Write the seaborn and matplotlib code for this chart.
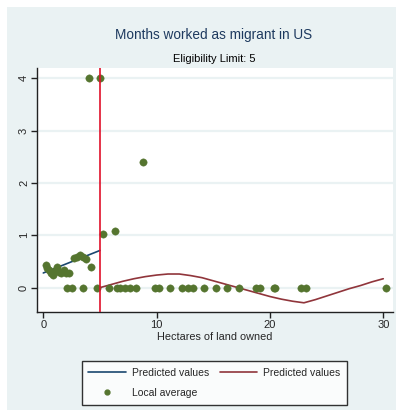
import matplotlib
matplotlib.use("Agg")
import matplotlib.pyplot as plt
from matplotlib.patches import Rectangle
from matplotlib.lines import Line2D
import seaborn as sns
import pandas as pd

# ---- data ----
avg_x = [0.2, 0.35, 0.5, 0.7, 0.85, 1.1, 1.25, 1.4, 1.6, 1.8, 2.0, 2.25,
         2.75, 3.0, 3.25, 3.5, 3.8, 4.25,
         4.0, 5.0, 5.3, 6.3, 8.8,
         2.05, 2.5, 3.5, 4.72, 5.78, 6.5, 6.75, 7.2, 7.65, 8.2, 9.85, 10.25,
         11.2, 12.25, 12.75, 13.2, 14.2, 15.25, 16.25, 17.25, 18.8, 19.15,
         20.35, 20.45, 22.75, 23.2, 30.2]
avg_y = [0.44, 0.38, 0.33, 0.27, 0.24, 0.33, 0.40, 0.30, 0.27, 0.33, 0.28, 0.27,
         0.57, 0.59, 0.62, 0.58, 0.54, 0.40,
         4.0, 4.0, 1.03, 1.09, 2.40,
         0, 0, 0, 0, 0, 0, 0, 0, 0, 0, 0, 0,
         0, 0, 0, 0, 0, 0, 0, 0, 0, 0,
         0, 0, 0, 0, 0]

left_x = [0.0, 5.0]
left_y = [0.28, 0.71]

right_x = [5, 6, 7, 8, 9, 10, 11, 12, 13, 14, 15, 16, 17, 18, 19, 20, 21, 22,
           23, 24, 25, 26, 27, 28, 29, 30]
right_y = [0.0, 0.06, 0.12, 0.17, 0.21, 0.24, 0.26, 0.26, 0.23, 0.19, 0.13,
           0.07, 0.01, -0.05, -0.11, -0.17, -0.22, -0.26, -0.29, -0.23, -0.16,
           -0.09, -0.02, 0.04, 0.11, 0.17]

cutoff = 5
x_ticks = [0, 10, 20, 30]
y_ticks = [0, 1, 2, 3, 4]

title = "Months worked as migrant in US"
subtitle = "Eligibility Limit: 5"
xlabel = "Hectares of land owned"
legend_labels = ["Predicted values", "Predicted values", "Local average"]

# ---- styling ----
sns.set_style("white")
plt.rcParams["font.family"] = ["Liberation Sans", "DejaVu Sans"]

BG = "#eaf2f3"
NAVY = "#1a476f"
MAROON = "#90353b"
GREEN = "#55752f"

fig = plt.figure(figsize=(3.96, 4.11), dpi=100)
fig.patch.set_facecolor("white")
fig.patches.append(Rectangle((7 / 396, 1 / 411), 389 / 396, 403 / 411,
                             transform=fig.transFigure, facecolor=BG,
                             edgecolor="none", zorder=-10))

ax = fig.add_axes([37.3 / 396, 1 - 311.7 / 411, 355.7 / 396, 243.4 / 411])
ax.set_facecolor("white")

df_pts = pd.DataFrame({"x": avg_x, "y": avg_y})
df_l = pd.DataFrame({"x": left_x, "y": left_y})
df_r = pd.DataFrame({"x": right_x, "y": right_y})

for t in y_ticks:
    ax.axhline(t, color=BG, lw=1.6, zorder=0)

sns.lineplot(data=df_l, x="x", y="y", ax=ax, color=NAVY, lw=1.2, zorder=3)
sns.lineplot(data=df_r, x="x", y="y", ax=ax, color=MAROON, lw=1.2, zorder=3)
sns.scatterplot(data=df_pts, x="x", y="y", ax=ax, color=GREEN, s=28,
                edgecolor=GREEN, linewidth=0.3, zorder=4)
ax.axvline(cutoff, color="#e0102a", lw=1.2, zorder=5)

ax.set_xlim(-0.53, 30.86)
ax.set_ylim(-0.46, 4.19)
ax.set_xticks(x_ticks)
ax.set_yticks(y_ticks)
ax.set_xticklabels([str(v) for v in x_ticks], fontsize=8)
ax.set_yticklabels([str(v) for v in y_ticks], fontsize=8, rotation=90, va="center")
ax.tick_params(axis="both", direction="out", length=4, width=1, color="#222222",
               pad=2, left=True, bottom=True)
for s in ["top", "right"]:
    ax.spines[s].set_visible(False)
for s in ["left", "bottom"]:
    ax.spines[s].set_color("#222222")
    ax.spines[s].set_linewidth(1.0)
ax.set_xlabel(xlabel, fontsize=7.8, labelpad=1.5)
ax.set_ylabel("")

fig.text(214 / 396, 1 - 35 / 411, title, ha="center", va="center",
         fontsize=9.8, color="#1e3a5f")
fig.text(214 / 396, 1 - 59 / 411, subtitle, ha="center", va="center",
         fontsize=8, color="black")

handles = [Line2D([], [], color=NAVY, lw=1.2),
           Line2D([], [], color=GREEN, marker="o", ls="none", markersize=3.5),
           Line2D([], [], color=MAROON, lw=1.2)]
labels = [legend_labels[0], legend_labels[2], legend_labels[1]]
leg = fig.legend(handles, labels, ncol=2, loc="center",
                 bbox_to_anchor=(214.5 / 396, 1 - 383 / 411), fontsize=7.5,
                 frameon=True, fancybox=False, edgecolor="black",
                 handlelength=3.6, columnspacing=1.0, borderpad=0.65,
                 labelspacing=0.95, handletextpad=0.6, borderaxespad=0)
leg.get_frame().set_linewidth(1.0)
leg.get_frame().set_facecolor("white")

fig.savefig("out.png", dpi=100, facecolor=fig.get_facecolor())
